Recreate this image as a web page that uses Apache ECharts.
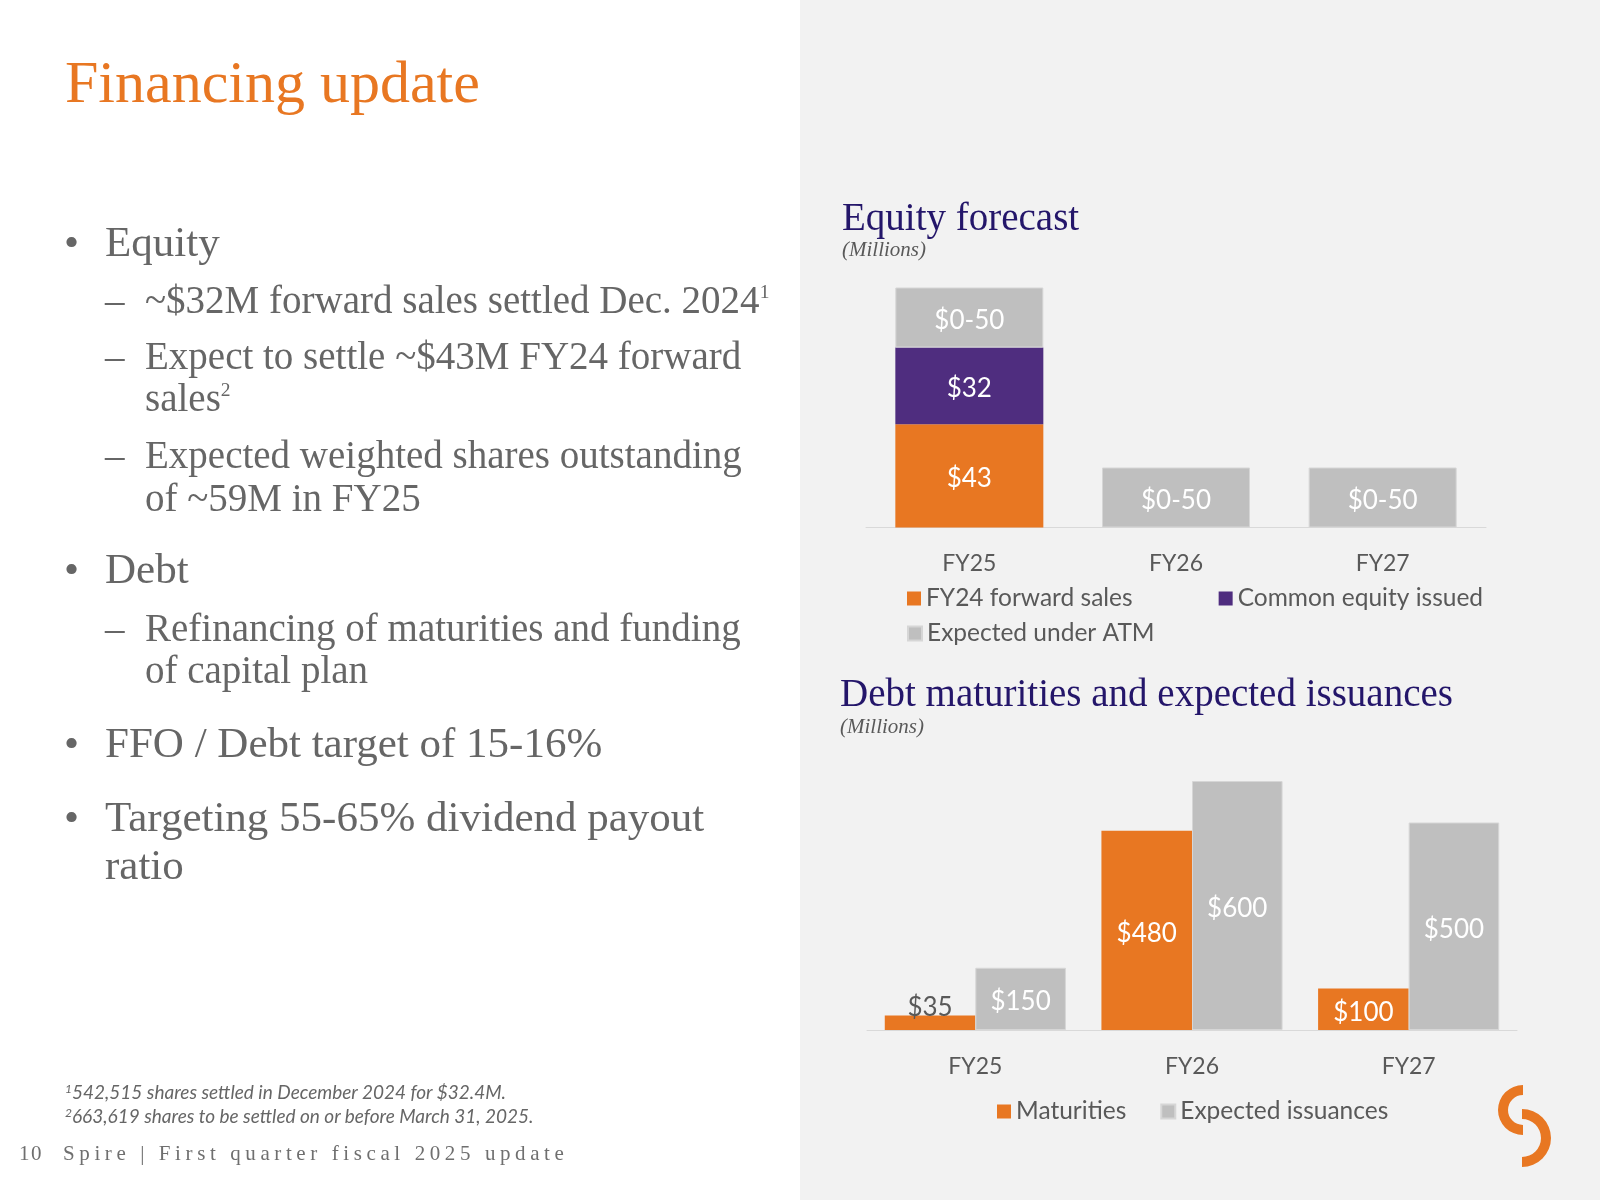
<!DOCTYPE html>
<html>
<head>
<meta charset="utf-8">
<script src="https://cdn.jsdelivr.net/npm/echarts@6/dist/echarts.min.js"></script>
<style>
html,body{margin:0;padding:0;width:1600px;height:1200px;overflow:hidden;background:#ffffff;}
#panel{position:absolute;left:800px;top:0;width:800px;height:1200px;background:#f2f2f2;}
#chart{position:absolute;left:0;top:0;width:1600px;height:1200px;}
.t{position:absolute;white-space:nowrap;font-family:"Liberation Serif","DejaVu Serif",serif;color:#666666;height:50px;line-height:50px;}
.l1{font-size:43px;}
.l2{font-size:39px;}
sup{font-size:0.5em;line-height:0;vertical-align:0.75em;}
.fn{position:absolute;white-space:nowrap;font-family:Lato,"Open Sans",sans-serif;font-style:italic;font-size:19px;color:#666666;height:24px;line-height:24px;}
.fn sup{font-size:12px;vertical-align:6px;}
.ft{position:absolute;white-space:nowrap;font-family:"Liberation Serif",serif;font-size:21px;color:#6f6f6f;letter-spacing:4.6px;height:26px;line-height:26px;}
</style>
</head>
<body>
<div id="panel"></div>
<div id="chart"></div>

<div class="t" style="left:65px;top:47px;height:70px;line-height:70px;font-size:60px;color:#e87722;">Financing update</div>

<div class="t l1" style="left:64px;top:217px;">•</div>
<div class="t l1" style="left:105px;top:217px;">Equity</div>
<div class="t l2" style="left:105px;top:275px;">–</div>
<div class="t l2" style="left:145px;top:275px;">~$32M forward sales settled Dec. 2024<sup>1</sup></div>
<div class="t l2" style="left:105px;top:331px;">–</div>
<div class="t l2" style="left:145px;top:331px;">Expect to settle ~$43M FY24 forward</div>
<div class="t l2" style="left:145px;top:373px;">sales<sup>2</sup></div>
<div class="t l2" style="left:105px;top:430px;">–</div>
<div class="t l2" style="left:145px;top:430px;">Expected weighted shares outstanding</div>
<div class="t l2" style="left:145px;top:473px;">of ~59M in FY25</div>
<div class="t l1" style="left:64px;top:544px;">•</div>
<div class="t l1" style="left:105px;top:544px;">Debt</div>
<div class="t l2" style="left:105px;top:603px;">–</div>
<div class="t l2" style="left:145px;top:603px;">Refinancing of maturities and funding</div>
<div class="t l2" style="left:145px;top:645px;">of capital plan</div>
<div class="t l1" style="left:64px;top:718px;">•</div>
<div class="t l1" style="left:105px;top:718px;">FFO / Debt target of 15-16%</div>
<div class="t l1" style="left:64px;top:792px;">•</div>
<div class="t l1" style="left:105px;top:792px;">Targeting 55-65% dividend payout</div>
<div class="t l1" style="left:105px;top:840px;">ratio</div>

<div class="fn" style="left:65px;top:1080px;"><sup>1</sup>542,515 shares settled in December 2024 for $32.4M.</div>
<div class="fn" style="left:65px;top:1104px;"><sup>2</sup>663,619 shares to be settled on or before March 31, 2025.</div>

<div class="ft" style="left:19px;top:1140px;letter-spacing:1.5px;">10</div>
<div class="ft" style="left:63px;top:1140px;">Spire | First quarter fiscal 2025 update</div>

<script>
// ---- data ----
const categories = ['FY25', 'FY26', 'FY27'];
// Equity forecast (millions)
const fwdSales = [43, null, null];          // FY24 forward sales
const commonEquity = [32, null, null];      // Common equity issued
const atmExpected = [25, 25, 25];           // Expected under ATM (bar drawn at mid of $0-50 range)
const atmLabels = ['$0-50', '$0-50', '$0-50'];
// Debt maturities and expected issuances (millions)
const maturities = [35, 480, 100];
const issuances = [150, 600, 500];

const ORANGE = '#e87722', PURPLE = '#4f2d7f', GRAY = '#bfbfbf';
const SANS = 'Lato';
const TXT = '#595959';

const chart = echarts.init(document.getElementById('chart'), null, {renderer: 'canvas'});

const labelBase = {show: true, color: '#ffffff', fontFamily: SANS, fontSize: 26, offset: [0, 3]};
const axisX = (gi, margin) => ({
  gridIndex: gi, type: 'category', data: categories,
  axisLine: {show: true, lineStyle: {color: '#d9d9d9', width: 1}},
  axisTick: {show: false},
  axisLabel: {margin: margin, fontSize: 23, color: TXT, fontFamily: SANS}
});
const legendText = {fontSize: 24.5, color: TXT, fontFamily: SANS};
const titleStyle = {fontFamily: 'Liberation Serif', fontSize: 39, fontWeight: 'normal', color: '#24166a', lineHeight: 46};
const subStyle = {fontFamily: 'Liberation Serif', fontSize: 21, fontStyle: 'italic', fontWeight: 'normal', color: TXT, lineHeight: 26};

chart.setOption({
  backgroundColor: 'transparent',
  animation: false,
  title: [
    {text: 'Equity forecast', left: 842, top: 197, padding: 0, textStyle: titleStyle},
    {text: '(Millions)', left: 842, top: 237, padding: 0, textStyle: subStyle},
    {text: 'Debt maturities and expected issuances', left: 840, top: 673, padding: 0, textStyle: titleStyle},
    {text: '(Millions)', left: 840, top: 714, padding: 0, textStyle: subStyle}
  ],
  legend: [
    {data: ['FY24 forward sales', 'Common equity issued'], left: 907, top: 586, padding: 0, orient: 'horizontal',
     icon: 'rect', itemWidth: 14, itemHeight: 14, itemGap: 86, textStyle: legendText},
    {data: ['Expected under ATM'], left: 907, top: 621, padding: 0, orient: 'horizontal',
     icon: 'rect', itemWidth: 14, itemHeight: 14, textStyle: legendText},
    {data: ['Maturities', 'Expected issuances'], left: 997, top: 1099, padding: 0, orient: 'horizontal',
     icon: 'rect', itemWidth: 14, itemHeight: 14, itemGap: 34, textStyle: legendText}
  ],
  grid: [
    {left: 866, right: 114, top: 287.5, bottom: 672.5},
    {left: 867, right: 83, top: 781, bottom: 170}
  ],
  xAxis: [axisX(0, 25), axisX(1, 25)],
  yAxis: [
    {gridIndex: 0, type: 'value', min: 0, max: 100, show: false, splitLine: {show: false}},
    {gridIndex: 1, type: 'value', min: 0, max: 600, show: false, splitLine: {show: false}}
  ],
  series: [
    {name: 'FY24 forward sales', type: 'bar', xAxisIndex: 0, yAxisIndex: 0, stack: 'eq', barWidth: 148,
     data: fwdSales, itemStyle: {color: ORANGE},
     label: Object.assign({}, labelBase, {position: 'inside', formatter: p => p.value == null ? '' : '$' + p.value})},
    {name: 'Common equity issued', type: 'bar', xAxisIndex: 0, yAxisIndex: 0, stack: 'eq', barWidth: 148,
     data: commonEquity, itemStyle: {color: PURPLE},
     label: Object.assign({}, labelBase, {position: 'inside', formatter: p => p.value == null ? '' : '$' + p.value})},
    {name: 'Expected under ATM', type: 'bar', xAxisIndex: 0, yAxisIndex: 0, stack: 'eq', barWidth: 148,
     data: atmExpected, itemStyle: {color: GRAY, borderColor: '#d6d6d6', borderWidth: 1},
     label: Object.assign({}, labelBase, {position: 'inside', formatter: p => atmLabels[p.dataIndex]})},
    {name: 'Maturities', type: 'bar', xAxisIndex: 1, yAxisIndex: 1, barGap: '0%', barCategoryGap: '16.4%',
     data: maturities.map(v => v < 60
        ? {value: v, label: {position: 'top', distance: -2, color: TXT}}
        : v),
     itemStyle: {color: ORANGE},
     label: Object.assign({}, labelBase, {position: 'inside', formatter: p => '$' + p.value})},
    {name: 'Expected issuances', type: 'bar', xAxisIndex: 1, yAxisIndex: 1, barGap: '0%', barCategoryGap: '16.4%',
     data: issuances, itemStyle: {color: GRAY, borderColor: '#d6d6d6', borderWidth: 1},
     label: Object.assign({}, labelBase, {position: 'inside', formatter: p => '$' + p.value})}
  ],
  graphic: [
    {type: 'sector', shape: {cx: 1523, cy: 1110, r: 25, r0: 15, startAngle: Math.PI / 2, endAngle: Math.PI * 3 / 2, clockwise: true},
     style: {fill: ORANGE}, silent: true},
    {type: 'sector', shape: {cx: 1522, cy: 1138, r: 29, r0: 19, startAngle: -Math.PI / 2, endAngle: Math.PI / 2, clockwise: true},
     style: {fill: ORANGE}, silent: true}
  ]
});
</script>
</body>
</html>
